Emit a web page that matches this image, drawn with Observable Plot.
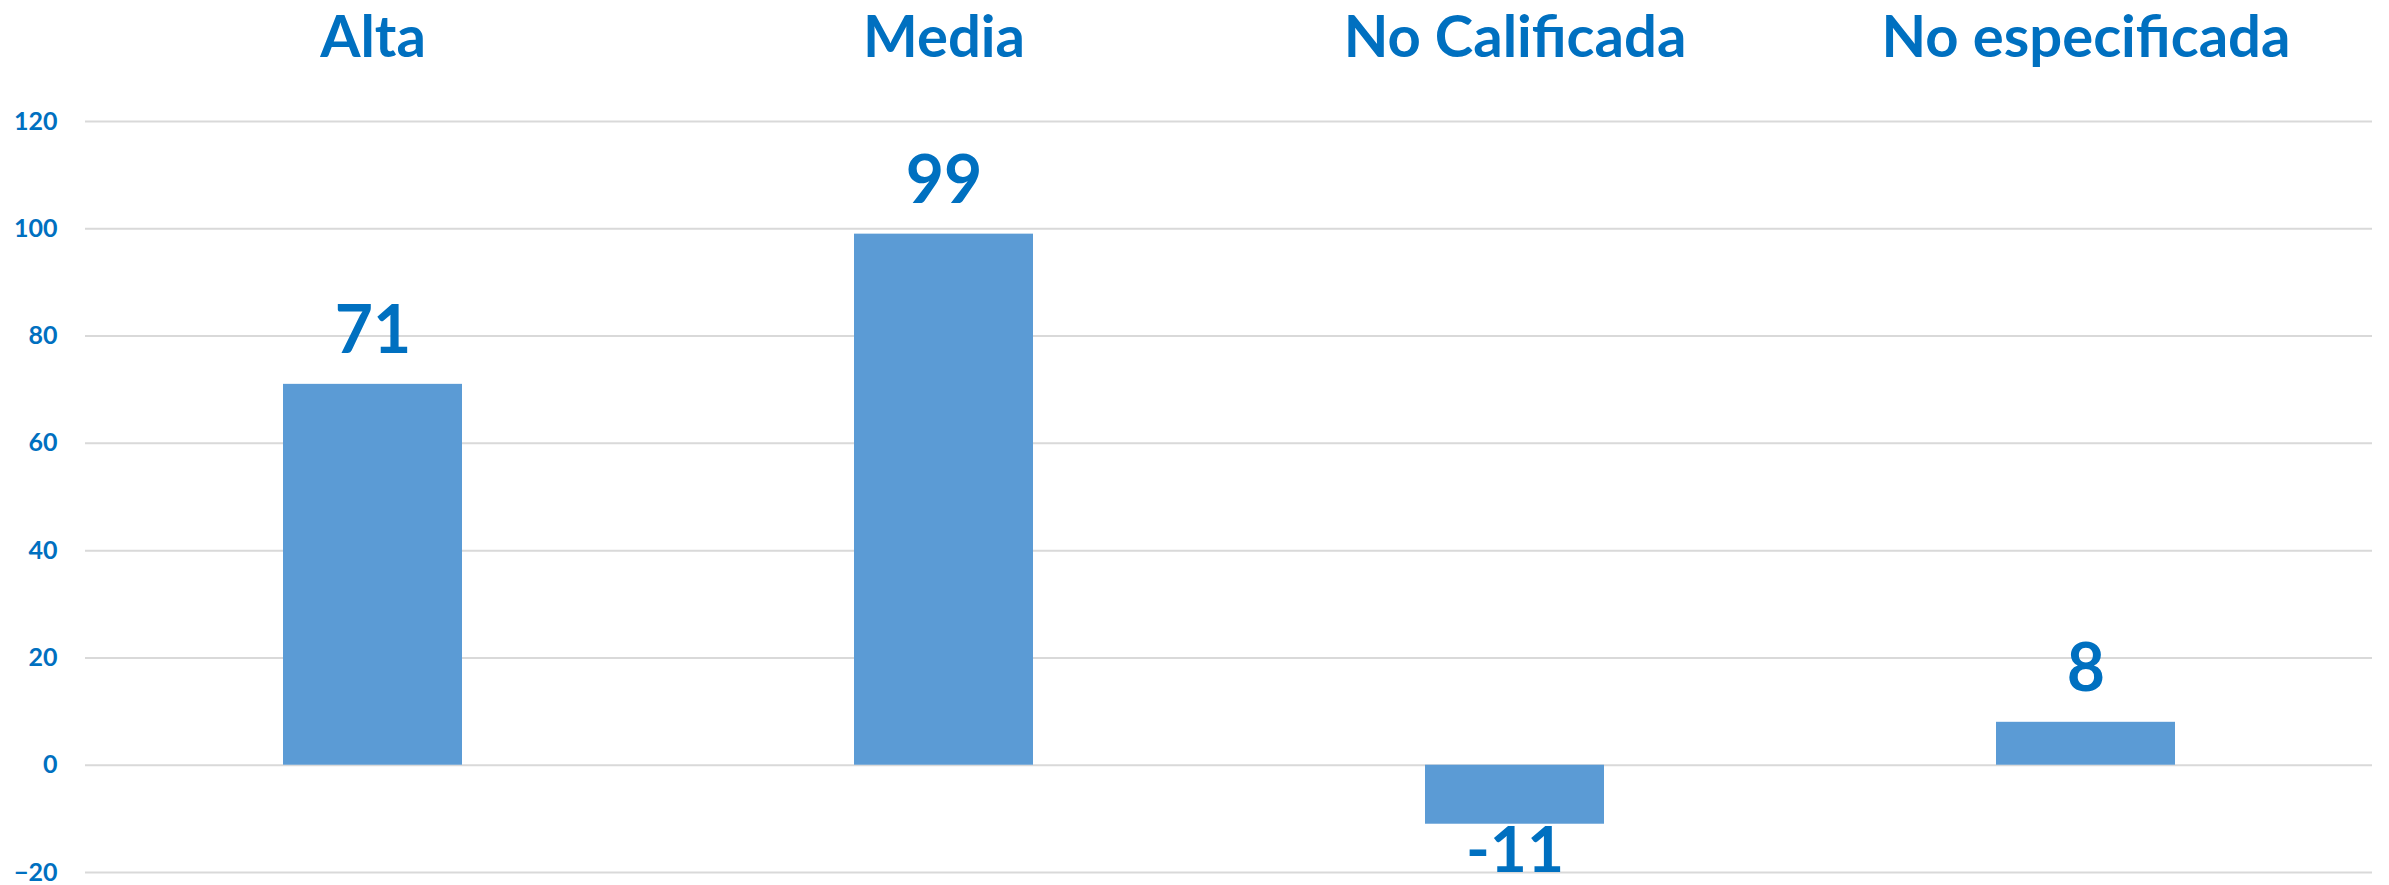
<!DOCTYPE html>
<html>
<head>
<meta charset="utf-8">
<script src="https://cdn.jsdelivr.net/npm/d3@7"></script>
<script src="https://cdn.jsdelivr.net/npm/@observablehq/plot@0.6"></script>
<style>
  html, body { margin: 0; padding: 0; background: #ffffff; }
</style>
</head>
<body>
<div id="chart"></div>
<script>
const categories = ["Alta", "Media", "No Calificada", "No especificada"];
const values = [71, 99, -11, 8];
const yTicks = [-20, 0, 20, 40, 60, 80, 100, 120];

const data = categories.map((c, i) => ({category: c, value: values[i]}));
const blue = "#0070C0";

const chart = Plot.plot({
  width: 2389,
  height: 885,
  marginLeft: 85,
  marginRight: 17,
  marginTop: 121,
  marginBottom: 13,
  style: {fontFamily: "Lato, 'Open Sans', sans-serif", color: blue, background: "#ffffff", overflow: "visible"},
  x: {domain: categories, paddingInner: 0.687, paddingOuter: 0.3435, label: null},
  y: {domain: [-20, 120], label: null},
  marks: [
    Plot.gridY(yTicks, {stroke: "#d9d9d9", strokeOpacity: 1, strokeWidth: 2}),
    Plot.axisY({ticks: yTicks, tickSize: 0, tickPadding: 28, fontSize: 25, fontWeight: "bold", fill: blue, label: null}),
    Plot.axisX({anchor: "top", tickSize: 0, tickPadding: 65, fontSize: 58, fontWeight: "bold", fill: blue, label: null}),
    Plot.barY(data, {x: "category", y: "value", fill: "#5B9BD5"}),
    Plot.text(data.filter(d => d.value >= 0), {x: "category", y: "value", text: d => String(d.value), lineAnchor: "bottom", dy: -31, fontSize: 66, fontWeight: "bold", fill: blue}),
    Plot.text(data.filter(d => d.value < 0), {x: "category", y: "value", text: d => String(d.value), lineAnchor: "top", dy: 2, fontSize: 64, fontWeight: "bold", fill: blue})
  ]
});
document.getElementById("chart").appendChild(chart);
</script>
</body>
</html>
